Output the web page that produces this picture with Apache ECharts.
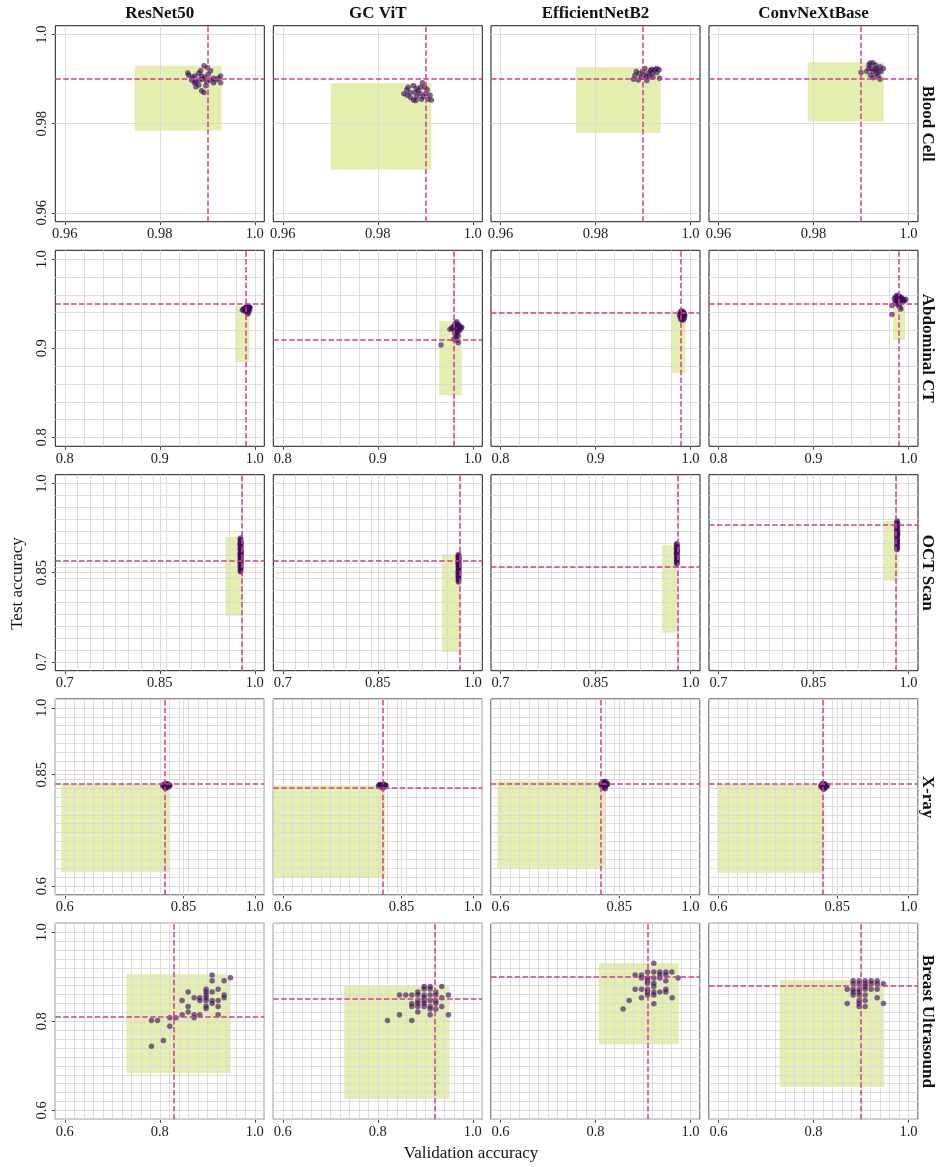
<!DOCTYPE html>
<html><head><meta charset="utf-8">
<script src="https://cdn.jsdelivr.net/npm/echarts@6/dist/echarts.min.js"></script>
<style>html,body{margin:0;padding:0;background:#fff}#c{width:939px;height:1167px}</style>
</head><body><div id="c"></div>
<script>
// ---------- categories ----------
const models = ['ResNet50', 'GC ViT', 'EfficientNetB2', 'ConvNeXtBase'];
const datasets = ['Blood Cell', 'Abdominal CT', 'OCT Scan', 'X-ray', 'Breast Ultrasound'];

// ---------- axes (per dataset row) ----------
const axisMin = [0.958, 0.79, 0.685, 0.58, 0.58];
const axisMax = [1.002, 1.01, 1.015, 1.02, 1.02];
const tickValues = [[0.96, 0.98, 1.0], [0.8, 0.9, 1.0], [0.7, 0.85, 1.0], [0.6, 0.85, 1.0], [0.6, 0.8, 1.0]];
const tickLabels = [['0.96', '0.98', '1.0'], ['0.8', '0.9', '1.0'], ['0.7', '0.85', '1.0'], ['0.6', '0.85', '1.0'], ['0.6', '0.8', '1.0']];
const minorStep = 0.02;

// ---------- shaded ranges [xmin, xmax, ymin, ymax] ----------
const boxBlood = [[0.9747, 0.9930, 0.9784, 0.9930], [0.9701, 0.9913, 0.9697, 0.9891], [0.9759, 0.9937, 0.9779, 0.9927], [0.9788, 0.9948, 0.9805, 0.9938]];
const boxAbdominal = [[0.9795, 0.9942, 0.8846, 0.9475], [0.9647, 0.9883, 0.8473, 0.9303], [0.9795, 0.9949, 0.8723, 0.9419], [0.9837, 0.9963, 0.9097, 0.9579]];
const boxOct = [[0.9534, 0.9803, 0.7776, 0.9101], [0.9514, 0.9809, 0.7165, 0.8810], [0.9550, 0.9792, 0.7490, 0.8961], [0.9608, 0.9845, 0.8365, 0.9370]];
const boxXray = [[0.5926, 0.8200, 0.6316, 0.8299], [0.5800, 0.8152, 0.6204, 0.8269], [0.5933, 0.8206, 0.6406, 0.8366], [0.5975, 0.8227, 0.6301, 0.8292]];
const boxBreast = [[0.7295, 0.9493, 0.6839, 0.9055], [0.7291, 0.9502, 0.6263, 0.8799], [0.8070, 0.9754, 0.7486, 0.9302], [0.7291, 0.9488, 0.6525, 0.8919]];

// ---------- reference lines [x (validation), y (test)] ----------
const refBlood = [[0.9905, 0.9888], [0.9906, 0.9867], [0.9877, 0.9903], [0.9918, 0.9915]];
const refAbdominal = [[0.9939, 0.9452], [0.9830, 0.9119], [0.9921, 0.9351], [0.9907, 0.9531]];
const refOct = [[0.9777, 0.8736], [0.9771, 0.8736], [0.9808, 0.8641], [0.9819, 0.9253]];
const refXray = [[0.8131, 0.8307], [0.8088, 0.8225], [0.8130, 0.8263], [0.8193, 0.8299]];
const refBreast = [[0.8326, 0.8074], [0.9221, 0.8462], [0.9095, 0.8972], [0.8961, 0.8844]];

// ---------- points [validation accuracy, test accuracy] ----------
const bloodResNet = [[0.9859,0.9914],[0.9861,0.9909],[0.9869,0.9904],[0.9873,0.9892],[0.9876,0.9883],[0.9888,0.9874],[0.9893,0.9870],[0.9893,0.9930],[0.9900,0.9926],[0.9882,0.9913],[0.9888,0.9907],[0.9895,0.9904],[0.9902,0.9911],[0.9906,0.9898],[0.9913,0.9902],[0.9918,0.9898],[0.9928,0.9907],[0.9928,0.9892],[0.9883,0.9898],[0.9876,0.9894],[0.9899,0.9894],[0.9907,0.9919],[0.9890,0.9900],[0.9882,0.9887],[0.9913,0.9892],[0.9867,0.9898],[0.9897,0.9885],[0.9886,0.9919],[0.9923,0.9902],[0.9874,0.9907]];
const bloodGcvit = [[0.9855,0.9867],[0.9861,0.9876],[0.9864,0.9882],[0.9875,0.9885],[0.9882,0.9879],[0.9890,0.9882],[0.9894,0.9892],[0.9899,0.9882],[0.9904,0.9876],[0.9910,0.9864],[0.9913,0.9853],[0.9906,0.9855],[0.9875,0.9853],[0.9869,0.9859],[0.9882,0.9861],[0.9889,0.9868],[0.9878,0.9870],[0.9896,0.9861],[0.9868,0.9870],[0.9885,0.9874],[0.9901,0.9868],[0.9892,0.9855],[0.9862,0.9864],[0.9880,0.9852]];
const bloodEff = [[0.9880,0.9900],[0.9883,0.9909],[0.9886,0.9917],[0.9892,0.9912],[0.9899,0.9917],[0.9904,0.9924],[0.9906,0.9904],[0.9908,0.9897],[0.9911,0.9913],[0.9916,0.9919],[0.9920,0.9913],[0.9925,0.9921],[0.9929,0.9915],[0.9934,0.9921],[0.9935,0.9902],[0.9921,0.9904],[0.9897,0.9904],[0.9890,0.9898],[0.9913,0.9907],[0.9902,0.9909],[0.9929,0.9924],[0.9918,0.9922]];
const bloodConvnext = [[0.9900,0.9915],[0.9912,0.9917],[0.9919,0.9936],[0.9925,0.9937],[0.9930,0.9932],[0.9933,0.9924],[0.9940,0.9928],[0.9947,0.9924],[0.9922,0.9924],[0.9925,0.9917],[0.9936,0.9917],[0.9920,0.9909],[0.9925,0.9903],[0.9940,0.9900],[0.9932,0.9912],[0.9916,0.9924],[0.9930,0.9921],[0.9942,0.9917],[0.9917,0.9932],[0.9936,0.9907]];

const abdResNet = [[0.9895,0.9445],[0.9905,0.9460],[0.9915,0.9470],[0.9925,0.9475],[0.9935,0.9465],[0.9945,0.9455],[0.9920,0.9450],[0.9910,0.9440],[0.9900,0.9430],[0.9890,0.9420],[0.9880,0.9435],[0.9870,0.9430],[0.9930,0.9440],[0.9940,0.9445],[0.9925,0.9425],[0.9915,0.9410],[0.9935,0.9400],[0.9925,0.9385],[0.9945,0.9430],[0.9950,0.9460],[0.9910,0.9455],[0.9885,0.9448]];
const abdGcvit = [[0.9778,0.9225],[0.9790,0.9240],[0.9805,0.9260],[0.9820,0.9280],[0.9831,0.9299],[0.9840,0.9270],[0.9850,0.9250],[0.9860,0.9240],[0.9875,0.9230],[0.9884,0.9236],[0.9870,0.9215],[0.9855,0.9200],[0.9840,0.9185],[0.9825,0.9190],[0.9810,0.9168],[0.9830,0.9150],[0.9845,0.9140],[0.9820,0.9125],[0.9800,0.9101],[0.9835,0.9090],[0.9847,0.9063],[0.9665,0.9037],[0.9760,0.9214],[0.9800,0.9210],[0.9855,0.9255],[0.9815,0.9245],[0.9865,0.9228]];
const abdEff = [[0.9890,0.9400],[0.9900,0.9415],[0.9910,0.9420],[0.9920,0.9410],[0.9930,0.9400],[0.9935,0.9385],[0.9925,0.9370],[0.9915,0.9360],[0.9905,0.9345],[0.9895,0.9330],[0.9910,0.9315],[0.9925,0.9320],[0.9935,0.9340],[0.9890,0.9360],[0.9900,0.9380],[0.9920,0.9390],[0.9930,0.9355],[0.9915,0.9335],[0.9940,0.9370],[0.9885,0.9375]];
const abdConvnext = [[0.9850,0.9560],[0.9865,0.9580],[0.9880,0.9595],[0.9895,0.9590],[0.9910,0.9580],[0.9925,0.9570],[0.9935,0.9555],[0.9945,0.9545],[0.9960,0.9535],[0.9940,0.9525],[0.9920,0.9520],[0.9900,0.9510],[0.9885,0.9525],[0.9870,0.9540],[0.9860,0.9520],[0.9875,0.9500],[0.9895,0.9480],[0.9910,0.9460],[0.9920,0.9440],[0.9905,0.9545],[0.9915,0.9555],[0.9890,0.9560],[0.9826,0.9480],[0.9826,0.9380],[0.9970,0.9550]];

const octResNet = [[0.9775,0.9085],[0.9768,0.9060],[0.9782,0.9040],[0.9772,0.9015],[0.9786,0.8995],[0.9765,0.8980],[0.9778,0.8960],[0.9770,0.8940],[0.9784,0.8925],[0.9775,0.8905],[0.9768,0.8890],[0.9782,0.8870],[0.9776,0.8855],[0.9788,0.8840],[0.9766,0.8825],[0.9779,0.8810],[0.9772,0.8795],[0.9785,0.8780],[0.9768,0.8765],[0.9777,0.8750],[0.9782,0.8735],[0.9770,0.8720],[0.9776,0.8705],[0.9786,0.8690],[0.9767,0.8675],[0.9779,0.8660],[0.9773,0.8645],[0.9783,0.8625],[0.9769,0.8605],[0.9777,0.8590],[0.9781,0.8570],[0.9771,0.8550],[0.9776,0.8530],[0.9774,0.8515]];
const octGcvit = [[0.9772,0.8805],[0.9780,0.8785],[0.9765,0.8770],[0.9776,0.8750],[0.9784,0.8735],[0.9768,0.8720],[0.9778,0.8700],[0.9771,0.8685],[0.9783,0.8665],[0.9766,0.8650],[0.9777,0.8635],[0.9772,0.8615],[0.9785,0.8600],[0.9769,0.8585],[0.9779,0.8565],[0.9774,0.8550],[0.9782,0.8530],[0.9767,0.8515],[0.9776,0.8500],[0.9771,0.8480],[0.9781,0.8465],[0.9768,0.8445],[0.9777,0.8425],[0.9773,0.8405],[0.9780,0.8385],[0.9770,0.8365],[0.9775,0.8345]];
const octEff = [[0.9785,0.8990],[0.9778,0.8970],[0.9792,0.8955],[0.9781,0.8935],[0.9789,0.8920],[0.9776,0.8905],[0.9786,0.8885],[0.9793,0.8870],[0.9780,0.8855],[0.9788,0.8835],[0.9777,0.8820],[0.9790,0.8805],[0.9783,0.8785],[0.9787,0.8770],[0.9779,0.8750],[0.9791,0.8735],[0.9782,0.8715],[0.9786,0.8700],[0.9780,0.8680],[0.9789,0.8665],[0.9784,0.8648]];
const octConvnext = [[0.9822,0.9370],[0.9815,0.9350],[0.9828,0.9330],[0.9818,0.9310],[0.9830,0.9290],[0.9812,0.9275],[0.9824,0.9255],[0.9817,0.9235],[0.9829,0.9220],[0.9813,0.9200],[0.9825,0.9180],[0.9819,0.9160],[0.9831,0.9140],[0.9814,0.9125],[0.9823,0.9105],[0.9818,0.9085],[0.9827,0.9065],[0.9815,0.9045],[0.9824,0.9025],[0.9820,0.9005],[0.9826,0.8985],[0.9816,0.8965],[0.9822,0.8945],[0.9819,0.8925],[0.9823,0.8905],[0.9820,0.8890]];

const xrayResNet = [[0.8060,0.8250],[0.8075,0.8280],[0.8090,0.8265],[0.8100,0.8235],[0.8110,0.8290],[0.8120,0.8255],[0.8130,0.8215],[0.8140,0.8275],[0.8150,0.8240],[0.8160,0.8295],[0.8170,0.8260],[0.8180,0.8225],[0.8190,0.8270],[0.8200,0.8245],[0.8215,0.8265],[0.8125,0.8195],[0.8145,0.8300],[0.8105,0.8205]];
const xrayGcvit = [[0.8015,0.8250],[0.8030,0.8270],[0.8045,0.8235],[0.8060,0.8285],[0.8075,0.8255],[0.8090,0.8225],[0.8100,0.8275],[0.8110,0.8245],[0.8125,0.8290],[0.8135,0.8260],[0.8150,0.8230],[0.8160,0.8270],[0.8175,0.8250],[0.8085,0.8215],[0.8120,0.8210],[0.8065,0.8235]];
const xrayEff = [[0.8115,0.8270],[0.8125,0.8300],[0.8135,0.8245],[0.8150,0.8320],[0.8160,0.8285],[0.8170,0.8345],[0.8180,0.8260],[0.8190,0.8310],[0.8200,0.8230],[0.8210,0.8290],[0.8220,0.8340],[0.8230,0.8265],[0.8245,0.8305],[0.8255,0.8280],[0.8175,0.8200],[0.8205,0.8185],[0.8185,0.8350]];
const xrayConvnext = [[0.8155,0.8240],[0.8165,0.8270],[0.8175,0.8215],[0.8185,0.8290],[0.8195,0.8250],[0.8205,0.8190],[0.8215,0.8275],[0.8225,0.8230],[0.8235,0.8300],[0.8245,0.8255],[0.8255,0.8210],[0.8265,0.8270],[0.8280,0.8240],[0.8290,0.8255],[0.8220,0.8175],[0.8200,0.8305]];

const breastResNet = [[0.9102,0.9040],[0.9102,0.8912],[0.9488,0.8979],[0.9354,0.8912],[0.8596,0.8657],[0.8975,0.8717],[0.8975,0.8657],[0.9102,0.8657],[0.9228,0.8717],[0.8975,0.8589],[0.9354,0.8589],[0.9354,0.8529],[0.8842,0.8529],[0.8723,0.8529],[0.8470,0.8469],[0.8842,0.8469],[0.8975,0.8529],[0.8975,0.8469],[0.9102,0.8469],[0.9228,0.8469],[0.9102,0.8401],[0.8975,0.8341],[0.8975,0.8289],[0.9228,0.8334],[0.8596,0.8334],[0.8596,0.8206],[0.8470,0.8146],[0.8723,0.8146],[0.8723,0.8079],[0.8842,0.8146],[0.9228,0.8146],[0.8211,0.8079],[0.8337,0.8079],[0.7825,0.8019],[0.7951,0.8019],[0.8211,0.7891],[0.8077,0.7568],[0.7825,0.7441]];
const breastGcvit = [[0.8975,0.8784],[0.9102,0.8784],[0.9347,0.8784],[0.8975,0.8724],[0.9102,0.8724],[0.8456,0.8589],[0.8589,0.8589],[0.8716,0.8589],[0.8842,0.8657],[0.8842,0.8589],[0.8975,0.8589],[0.9102,0.8589],[0.9221,0.8657],[0.9221,0.8589],[0.9488,0.8589],[0.8975,0.8529],[0.9347,0.8529],[0.8842,0.8462],[0.8975,0.8462],[0.9102,0.8462],[0.9221,0.8462],[0.8716,0.8401],[0.8842,0.8401],[0.8975,0.8401],[0.9221,0.8401],[0.8716,0.8334],[0.8842,0.8334],[0.8975,0.8334],[0.9102,0.8334],[0.9347,0.8334],[0.9102,0.8274],[0.9221,0.8274],[0.8842,0.8206],[0.8456,0.8146],[0.9102,0.8146],[0.9488,0.8146],[0.8204,0.8019],[0.8716,0.8019]];
const breastEff = [[0.9228,0.9302],[0.8835,0.9039],[0.8968,0.9039],[0.9095,0.9107],[0.9228,0.9107],[0.9354,0.9107],[0.9481,0.9107],[0.9607,0.9107],[0.8968,0.8972],[0.9095,0.8972],[0.9228,0.8972],[0.9354,0.9039],[0.9481,0.9039],[0.9354,0.8972],[0.9481,0.8912],[0.9740,0.8972],[0.9095,0.8912],[0.9228,0.8852],[0.9228,0.8784],[0.9095,0.8852],[0.8835,0.8717],[0.8968,0.8717],[0.9095,0.8717],[0.9095,0.8657],[0.9228,0.8657],[0.9354,0.8657],[0.9481,0.8717],[0.9481,0.8657],[0.9095,0.8589],[0.8968,0.8529],[0.9228,0.8589],[0.9614,0.8529],[0.8709,0.8469],[0.9228,0.8394],[0.8582,0.8274]];
const breastConvnext = [[0.8835,0.8912],[0.8961,0.8912],[0.9088,0.8912],[0.9214,0.8912],[0.9340,0.8912],[0.9474,0.8844],[0.8835,0.8844],[0.8961,0.8844],[0.9088,0.8844],[0.9214,0.8844],[0.9340,0.8844],[0.8709,0.8717],[0.8835,0.8717],[0.8961,0.8717],[0.9088,0.8717],[0.9214,0.8717],[0.9340,0.8717],[0.8835,0.8657],[0.8961,0.8657],[0.9088,0.8784],[0.8835,0.8589],[0.8961,0.8589],[0.9088,0.8589],[0.8961,0.8469],[0.9088,0.8469],[0.9340,0.8529],[0.8709,0.8401],[0.8961,0.8401],[0.8961,0.8334],[0.9088,0.8334],[0.9474,0.8401]];

const points = [
  [bloodResNet, bloodGcvit, bloodEff, bloodConvnext],
  [abdResNet, abdGcvit, abdEff, abdConvnext],
  [octResNet, octGcvit, octEff, octConvnext],
  [xrayResNet, xrayGcvit, xrayEff, xrayConvnext],
  [breastResNet, breastGcvit, breastEff, breastConvnext]
];
const boxes = [boxBlood, boxAbdominal, boxOct, boxXray, boxBreast];
const refs = [refBlood, refAbdominal, refOct, refXray, refBreast];

// ---------- layout / style ----------
const FONT = "'Liberation Serif', 'DejaVu Serif', serif";
const colLeft = [55.3, 273.3, 491, 709];
const rowTop = [25.7, 250.3, 474.7, 699, 923.3];
const PW = 209, PH = 196;
const GRIDC = '#d9d9d9';
const DASHC = '#d1408d';
const BOXC = 'rgba(182,216,52,0.40)';
const PTC = 'rgba(60,10,95,0.78)';

const grids = [], xAxes = [], yAxes = [], series = [];
function gridLineValues(lo, hi, ticks) {
  const out = [];
  for (let k = Math.ceil(lo / minorStep - 1e-9); k * minorStep <= hi + 1e-9; k++) out.push(+(k * minorStep).toFixed(4));
  ticks.forEach(t => { if (!out.some(v => Math.abs(v - t) < 1e-9)) out.push(t); });
  return out;
}
function fmt(r) {
  return function (v) {
    const i = tickValues[r].findIndex(t => Math.abs(t - v) < 1e-7);
    return i >= 0 ? tickLabels[r][i] : '';
  };
}
for (let r = 0; r < datasets.length; r++) {
  for (let c = 0; c < models.length; c++) {
    const idx = r * models.length + c;
    grids.push({ left: colLeft[c], top: rowTop[r], width: PW, height: PH, show: true, borderColor: '#1a1a1a', borderWidth: 1, backgroundColor: 'transparent' });
    xAxes.push({
      type: 'value', gridIndex: idx, min: axisMin[r], max: axisMax[r],
      splitLine: { show: false }, axisLine: { show: false },
      axisTick: { show: true, customValues: tickValues[r], length: 3.5, lineStyle: { color: '#333', width: 0.9 } },
      axisLabel: { show: true, customValues: tickValues[r], formatter: fmt(r), fontFamily: FONT, fontSize: 14.5, color: '#1a1a1a', margin: 5 }
    });
    yAxes.push({
      type: 'value', gridIndex: idx, min: axisMin[r], max: axisMax[r],
      splitLine: { show: false }, axisLine: { show: false },
      axisTick: { show: c === 0, customValues: tickValues[r], length: 3.5, lineStyle: { color: '#333', width: 0.9 } },
      axisLabel: { show: c === 0, customValues: tickValues[r], formatter: fmt(r), fontFamily: FONT, fontSize: 14.5, color: '#1a1a1a', margin: 6, rotate: 90 }
    });
    const gv = gridLineValues(axisMin[r], axisMax[r], tickValues[r]);
    const gl = [];
    gv.forEach(v => { gl.push({ xAxis: v }); gl.push({ yAxis: v }); });
    const b = boxes[r][c];
    series.push({
      type: 'scatter', xAxisIndex: idx, yAxisIndex: idx, data: [], z: 1, silent: true, animation: false,
      markArea: { z: 1, silent: true, animation: false, itemStyle: { color: BOXC }, emphasis: { disabled: true },
        data: [[{ xAxis: b[0], yAxis: b[2] }, { xAxis: b[1], yAxis: b[3] }]] },
      markLine: { z: 1.5, silent: true, symbol: ['none', 'none'], label: { show: false }, animation: false,
        lineStyle: { color: GRIDC, width: 0.9, type: 'solid' }, emphasis: { disabled: true }, data: gl }
    });
    series.push({
      type: 'scatter', xAxisIndex: idx, yAxisIndex: idx, z: 2, silent: true, animation: false,
      symbol: 'circle', symbolSize: 5.5, itemStyle: { color: PTC, borderWidth: 0, borderColor: 'transparent' },
      emphasis: { disabled: true }, data: points[r][c]
    });
    const rf = refs[r][c];
    series.push({
      type: 'scatter', xAxisIndex: idx, yAxisIndex: idx, data: [], z: 3, silent: true, animation: false,
      markLine: { z: 3, silent: true, symbol: ['none', 'none'], label: { show: false }, animation: false,
        lineStyle: { color: DASHC, width: 1.5, type: [5.5, 2.4] }, emphasis: { disabled: true },
        data: [{ xAxis: rf[0] }, { yAxis: rf[1] }] }
    });
  }
}

const graphics = [];
models.forEach((m, c) => graphics.push({ type: 'text', x: colLeft[c] + PW / 2, y: 14,
  style: { text: m, font: "bold 17px " + FONT, fill: '#111', textAlign: 'center', textVerticalAlign: 'middle' } }));
datasets.forEach((d, r) => graphics.push({ type: 'text', x: 927, y: rowTop[r] + PH / 2, rotation: -Math.PI / 2,
  style: { text: d, font: "bold 17px " + FONT, fill: '#111', textAlign: 'center', textVerticalAlign: 'middle' } }));
graphics.push({ type: 'text', x: 18, y: 583.5, rotation: Math.PI / 2,
  style: { text: 'Test accuracy', font: "17px " + FONT, fill: '#111', textAlign: 'center', textVerticalAlign: 'middle' } });
graphics.push({ type: 'text', x: 471, y: 1154,
  style: { text: 'Validation accuracy', font: "17px " + FONT, fill: '#111', textAlign: 'center', textVerticalAlign: 'middle' } });

const chart = echarts.init(document.getElementById('c'), null, { renderer: 'canvas' });
chart.setOption({
  animation: false,
  backgroundColor: '#fff',
  grid: grids, xAxis: xAxes, yAxis: yAxes, series: series, graphic: graphics
});
</script></body></html>
